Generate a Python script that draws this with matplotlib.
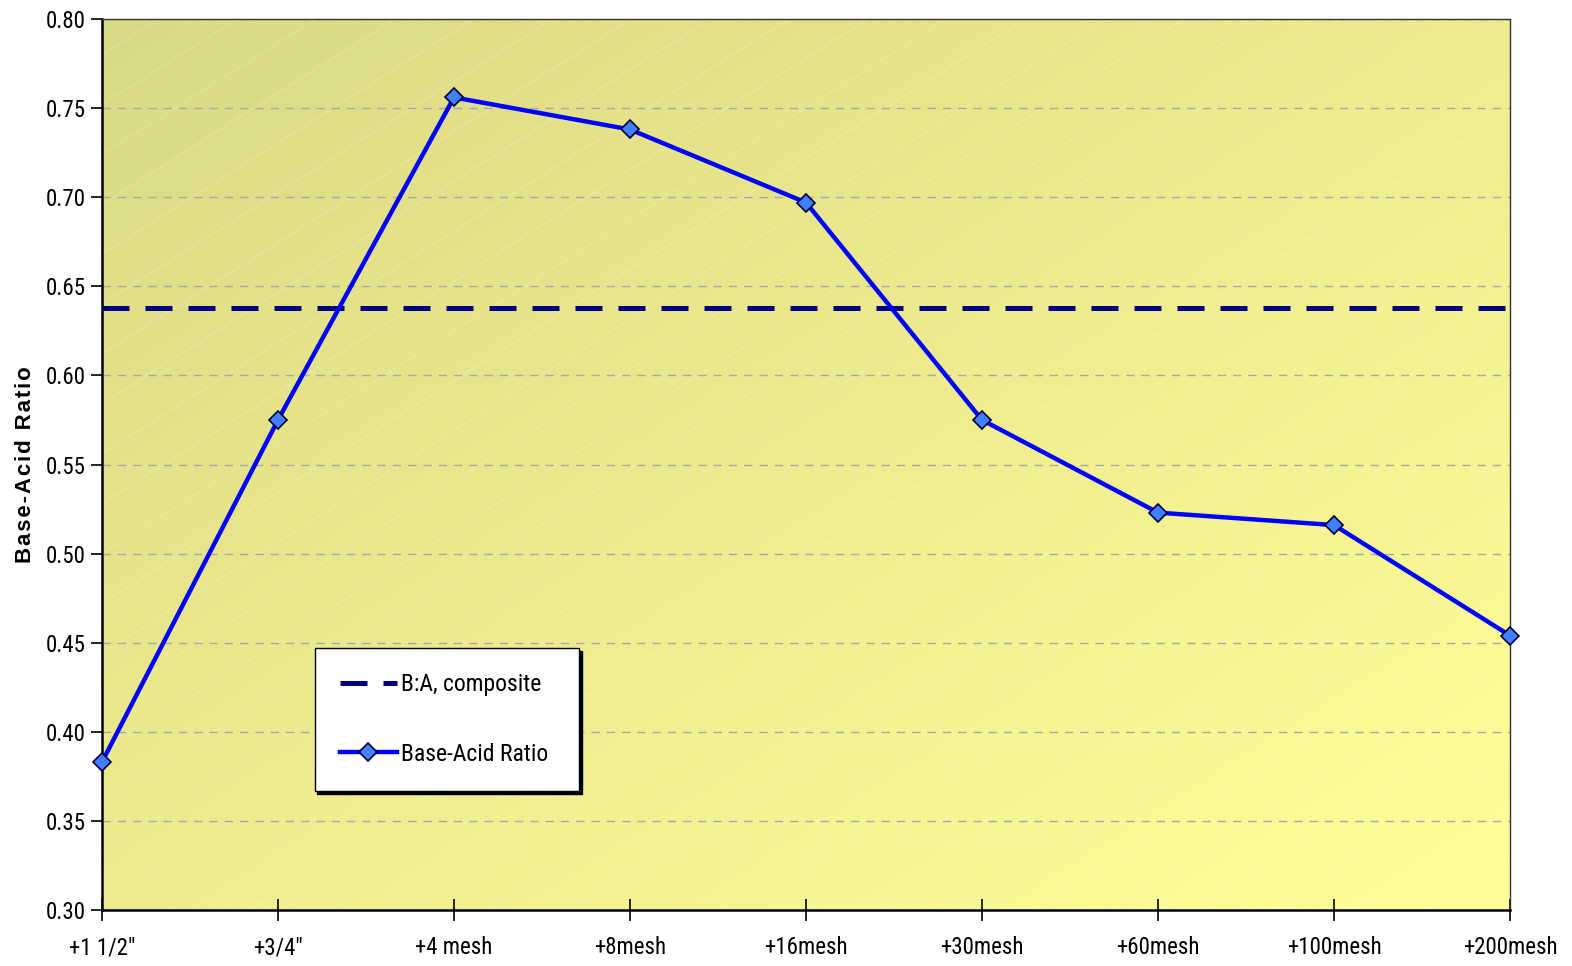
import matplotlib
matplotlib.use("Agg")
import matplotlib.pyplot as plt
import numpy as np
from matplotlib.colors import LinearSegmentedColormap
from matplotlib.ticker import FormatStrFormatter

categories = ['+1 1/2"', '+3/4"', '+4 mesh', '+8mesh', '+16mesh', '+30mesh', '+60mesh', '+100mesh', '+200mesh']
ratio = [0.383, 0.575, 0.756, 0.738, 0.697, 0.575, 0.523, 0.516, 0.454]
composite = [0.638] * len(categories)

font = ['Roboto Condensed', 'Archivo Narrow', 'Liberation Sans', 'DejaVu Sans']
plt.rcParams['font.family'] = font

fig = plt.figure(figsize=(15.72, 9.66), dpi=100)
ax = fig.add_axes([102/1572, 56/966, 1408/1572, 891/966])

x = np.arange(len(categories))
ax.set_xlim(0, len(categories) - 1)
ax.set_ylim(0.30, 0.80)

# diagonal gradient background: darker top-left, lighter bottom-right
n = 256
gx, gy = np.meshgrid(np.linspace(0, 1, n), np.linspace(0, 1, n))
g = (gx + gy) / 2.0
cmap = LinearSegmentedColormap.from_list('bg', ['#DAD985', '#EEEC8F', '#FFFF99'])
ax.imshow(g, cmap=cmap, extent=[0, 1, 0, 1], transform=ax.transAxes,
          aspect='auto', origin='upper', zorder=0)
# faint texture lines
for c in np.arange(-1.0, 1.0, 0.056):
    ax.plot([0, 1], [c, c + 1], transform=ax.transAxes, color='white',
            alpha=0.22, linewidth=0.7, zorder=0.5)

ax.set_yticks(np.arange(0.30, 0.801, 0.05))
ax.yaxis.set_major_formatter(FormatStrFormatter('%.2f'))
ax.grid(axis='y', linestyle=(0, (6, 5)), color='#A8A8A8', linewidth=1.0, zorder=1)
ax.set_axisbelow(True)

ax.plot(x, composite, color='#000080', linewidth=3.6, dashes=(5.4, 3.2), zorder=3,
        label='B:A, composite')
ax.plot(x, ratio, color='#0000FF', linewidth=3.2, marker='D', markersize=9.5,
        markerfacecolor='#4080FF', markeredgecolor='#000040', markeredgewidth=1.2,
        zorder=4, label='Base-Acid Ratio', clip_on=False)

ax.set_xticks(x)
ax.set_xticklabels(categories)
ax.tick_params(axis='x', direction='inout', length=16, width=1.2, pad=11, labelsize=16.5, colors='black')
ax.tick_params(axis='y', direction='out', length=8, width=1.2, pad=4, labelsize=16.5)

for s in ['left', 'bottom']:
    ax.spines[s].set_linewidth(1.8)
    ax.spines[s].set_color('black')
for s in ['top', 'right']:
    ax.spines[s].set_linewidth(1.0)
    ax.spines[s].set_color('#333333')

ax.set_ylabel('B\u200aa\u200as\u200ae\u200a-\u200aA\u200ac\u200ai\u200ad\u200a \u200aR\u200aa\u200at\u200ai\u200ao',
              fontsize=16, fontweight='bold', family=['Liberation Sans', 'DejaVu Sans'])
ax.yaxis.set_label_coords(-0.047, 0.5)

leg = ax.legend(loc='upper left', bbox_to_anchor=(0.151, 0.0, 0.188, 0.294),
                mode='expand', fontsize=17, frameon=True, fancybox=False,
                shadow={'color': 'black', 'alpha': 1.0}, edgecolor='black',
                framealpha=1, borderpad=1.07, labelspacing=1.96, handlelength=2.4,
                handletextpad=0.2, borderaxespad=0)
leg.get_frame().set_linewidth(1.0)
leg.set_zorder(10)

fig.savefig('out.png', dpi=100)
